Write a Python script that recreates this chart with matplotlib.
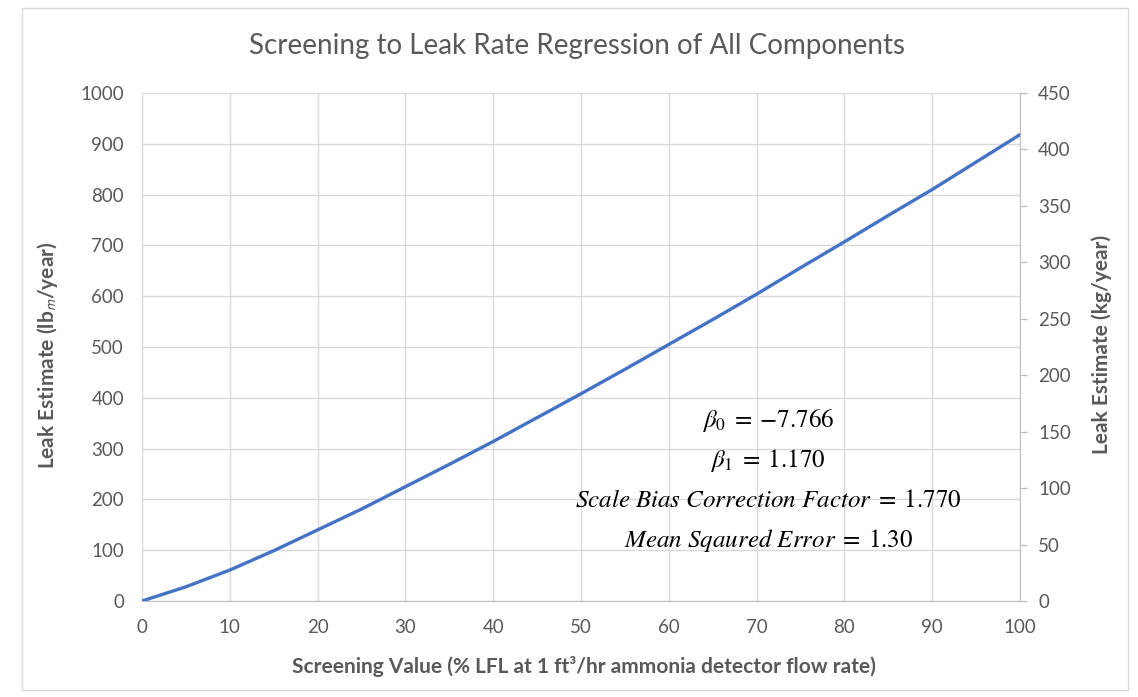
import numpy as np
import matplotlib.pyplot as plt
from matplotlib.patches import Rectangle

# values
screening = [0, 5, 10, 15, 20, 25, 30, 35, 40, 45, 50,
             55, 60, 65, 70, 75, 80, 85, 90, 95, 100]
leak_lb = [0, 28, 61, 99, 140, 181, 225, 269, 314, 361, 408,
           456, 505, 554, 604, 656, 707, 759, 810, 864, 918]

x_ticks = list(range(0, 101, 10))
left_ticks = list(range(0, 1001, 100))
right_ticks = list(range(0, 451, 50))

notes = [r"$\beta_0\;=\;{-}7.766$",
         r"$\beta_1\;=\;1.170$",
         r"$Scale\ Bias\ Correction\ Factor\;=\;1.770$",
         r"$Mean\ Sqaured\ Error\;=\;1.30$"]

gray = "#595959"
grid_gray = "#d9d9d9"

plt.rcParams['font.family'] = ['Lato', 'DejaVu Sans']
plt.rcParams['mathtext.fontset'] = 'stix'

fig = plt.figure(figsize=(11.38, 6.97), dpi=100)
ax = fig.add_axes([0.1248, 0.1377, 0.7715, 0.7289])

# chart area border
fig.patches.append(Rectangle((0.019, 0.010), 0.972, 0.978, transform=fig.transFigure,
                             fill=False, edgecolor="#d9d9d9", linewidth=1.0))

ax.plot(screening, leak_lb, color="#4472C4", linewidth=2.4, zorder=3)

ax.set_xlim(0, 100)
ax.set_ylim(0, 1000)
ax.set_xticks(x_ticks)
ax.set_yticks(left_ticks)
ax.grid(True, color=grid_gray, linewidth=1.0)
ax.tick_params(axis='both', length=0, labelsize=13.5, colors=gray)
ax.tick_params(axis='x', pad=13)
ax.tick_params(axis='y', pad=13)
for s in ['top', 'left']:
    ax.spines[s].set_visible(False)
ax.spines['bottom'].set_color("#bfbfbf")
ax.spines['right'].set_visible(False)

ax.set_xlabel("Screening Value (% LFL at 1 ft³/hr ammonia detector flow rate)",
              fontsize=15, fontweight='bold', color=gray, va='center')
ax.xaxis.set_label_coords(0.503, -0.128)
ax.set_ylabel(r"Leak Estimate (lb$_\mathsf{m}$/year)",
              fontsize=15, fontweight='bold', color=gray, va='center')
ax.yaxis.set_label_coords(-0.108, 0.484)

ax2 = ax.twinx()
ax2.set_ylim(0, 450)
ax2.set_yticks(right_ticks)
ax2.tick_params(axis='y', length=5, width=1, color="#bfbfbf",
                labelsize=13.5, labelcolor=gray, pad=8)
for s in ['top', 'left', 'bottom']:
    ax2.spines[s].set_visible(False)
ax2.spines['right'].set_color("#bfbfbf")
ax2.set_ylabel("Leak Estimate (kg/year)", fontsize=15, fontweight='bold',
               color=gray, va='center')
ax2.yaxis.set_label_coords(1.093, 0.506)

fig.text(0.507, 0.934, "Screening to Leak Rate Regression of All Components",
         fontsize=20, color=gray, ha='center', va='center')

note_y = [0.396, 0.339, 0.283, 0.224]
for txt, yy in zip(notes, note_y):
    fig.text(0.675, yy, txt, fontsize=18, ha='center', va='center', color="black")

fig.savefig("out.png", dpi=100)
